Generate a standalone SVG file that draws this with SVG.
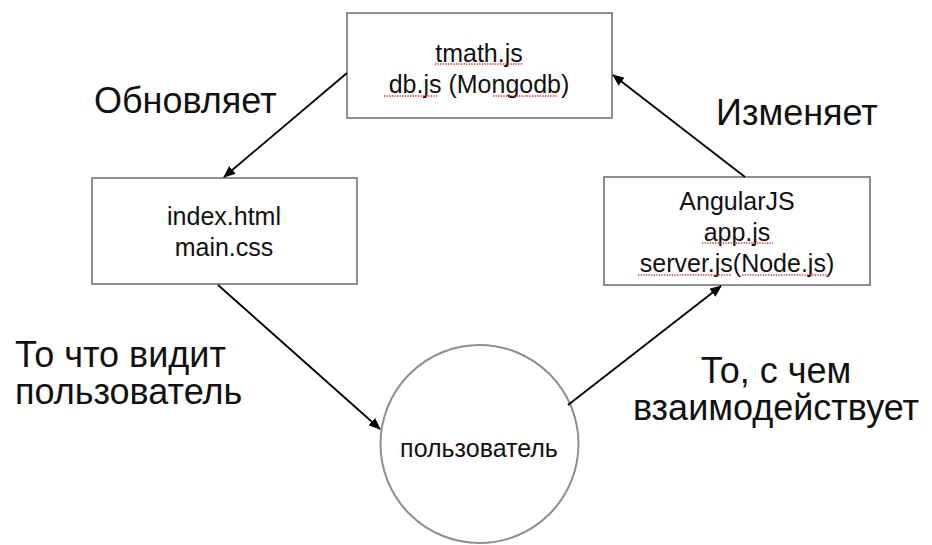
<svg xmlns="http://www.w3.org/2000/svg" width="932" height="545" viewBox="0 0 932 545">
<style>
.box{fill:#fff;stroke:#8e8e8e;stroke-width:2}
.t{font-family:"Liberation Sans",Arial,sans-serif;font-size:25px;fill:#111;text-anchor:middle}
.big{font-family:"Liberation Sans",Arial,sans-serif;font-size:36px;fill:#111}
.edge{stroke:#000;stroke-width:1.8;fill:none;marker-end:url(#ah)}
.sp{stroke:#e03030;stroke-width:1.3;stroke-dasharray:1.3 1.3;fill:none}
</style>
<defs>
<marker id="ah" viewBox="0 0 12 10" refX="11" refY="5" markerWidth="12" markerHeight="10" markerUnits="userSpaceOnUse" orient="auto">
<path d="M0,0 L12,5 L0,10 Z" fill="#000"/>
</marker>
</defs>
<rect width="932" height="545" fill="#fff"/>
<g id="top">
<rect class="box" x="347" y="13" width="265" height="105"/>
<text class="t" x="479" y="62">tmath.js</text>
<text class="t" x="479" y="93">db.js (Mongodb)</text>
<line class="sp" x1="435" y1="64" x2="523" y2="64"/>
<line class="sp" x1="384" y1="96" x2="437" y2="96"/>
<line class="sp" x1="493" y1="96" x2="558" y2="96"/>
</g>
<g id="left">
<rect class="box" x="92" y="178" width="265" height="106"/>
<text class="t" x="224" y="225">index.html</text>
<text class="t" x="224" y="256">main.css</text>
</g>
<g id="right">
<rect class="box" x="604" y="177" width="266" height="108"/>
<text class="t" x="737" y="210">AngularJS</text>
<text class="t" x="737" y="241">app.js</text>
<text class="t" x="737" y="272">server.js(Node.js)</text>
<line class="sp" x1="702" y1="243" x2="773" y2="243"/>
<line class="sp" x1="638" y1="275" x2="732" y2="275"/>
<line class="sp" x1="742" y1="275" x2="830" y2="275"/>
</g>
<g id="user">
<circle cx="479.5" cy="444" r="99" fill="#fff" stroke="#8e8e8e" stroke-width="2"/>
<text class="t" x="479" y="457">пользователь</text>
</g>
<g id="edges">
<line class="edge" x1="347" y1="73" x2="224" y2="177"/>
<line class="edge" x1="218" y1="285" x2="380" y2="429"/>
<line class="edge" x1="568" y1="405" x2="721" y2="286"/>
<line class="edge" x1="745" y1="177" x2="613" y2="75"/>
</g>
<g id="labels">
<text class="big" x="94" y="113">Обновляет</text>
<text class="big" x="716" y="125">Изменяет</text>
<text class="big" x="15" y="367">То что видит</text>
<text class="big" x="15" y="404">пользователь</text>
<text class="big" x="776" y="383" text-anchor="middle">То, с чем</text>
<text class="big" x="776" y="420" text-anchor="middle">взаимодействует</text>
</g>
</svg>
